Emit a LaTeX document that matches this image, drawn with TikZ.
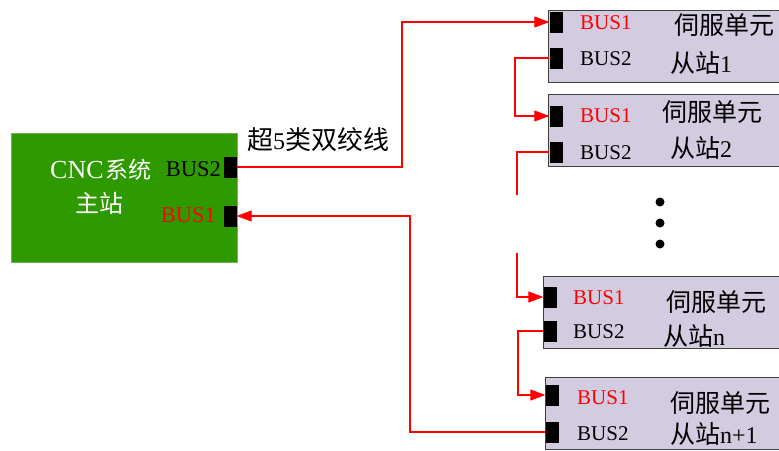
\documentclass[tikz,border=0pt]{standalone}
\usepackage{fontspec}
\setmainfont{Liberation Serif}
\newfontfamily\cjk{Noto Sans CJK SC}
\usetikzlibrary{arrows.meta}
\definecolor{cncgreen}{HTML}{2E9A00}
\definecolor{slavefill}{HTML}{D3CCE0}
\definecolor{busred}{HTML}{FF0000}
\newcommand{\lat}{\fontsize{21}{21}\selectfont}
\newcommand{\latb}{\fontsize{24}{24}\selectfont}
\newcommand{\han}{\fontsize{25}{25}\selectfont\cjk}
\begin{document}
\begin{tikzpicture}[x=1pt,y=-1pt,
  slavebox/.style={draw=black!75, line width=0.8pt, fill=slavefill, anchor=north west, minimum width=260pt, minimum height=72pt, inner sep=0pt},
  port/.style={fill=black, minimum width=13pt, minimum height=21pt, inner sep=0pt},
  lbl/.style={font=\lat, inner sep=0pt},
  cn/.style={font=\han, inner sep=0pt},
  wire/.style={draw=busred, line width=1.2pt},
  arr/.style={-{Triangle[length=15pt,width=11pt]}}
]
\useasboundingbox (0,0) rectangle (779,450);
\clip (0,0) rectangle (779,450);
% master
\node[fill=cncgreen, draw=cncgreen!70, anchor=north west, minimum width=226pt, minimum height=129pt, inner sep=0pt] (cnc) at (11,133) {};
\node[port] (m2) at (230,167) {};
\node[port] (m1) at (230,216) {};
\node[anchor=base west, inner sep=0pt, text=white] (cnct) at (50,178) {{\fontsize{26}{26}\selectfont CNC}\,{\fontsize{23}{23}\selectfont\cjk 系统}};
\node[font=\fontsize{24}{24}\selectfont\cjk, inner sep=0pt, text=white, anchor=base west] (zz) at (75,212) {主站};
\node[font=\fontsize{22.5}{22.5}\selectfont, inner sep=0pt, anchor=base east] (mb2) at (221,176) {BUS2};
\node[font=\fontsize{22.5}{22.5}\selectfont, inner sep=0pt, text=busred, anchor=base east] (mb1) at (216,222) {BUS1};
% slaves
\node[slavebox] (s1) at (548,10) {};
\node[slavebox] (s2) at (548,94) {};
\node[slavebox] (s3) at (543,276) {};
\node[slavebox] (s4) at (545,377) {};
\node[port] (s1a) at (556,22) {};
\node[port] (s1b) at (556,58) {};
\node[port] (s2a) at (556,116) {};
\node[port] (s2b) at (556,152) {};
\node[port] (s3a) at (550,297) {};
\node[port] (s3b) at (550,331) {};
\node[port] (s4a) at (552,395) {};
\node[port] (s4b) at (552,432) {};
% texts
\node[lbl, text=busred, anchor=base west] (t1a) at (580,29) {BUS1};
\node[lbl, anchor=base west] (t1b) at (580,65) {BUS2};
\node[cn, anchor=base west] (c1a) at (674,34) {伺服单元};
\node[anchor=base west, inner sep=0pt] (c1b) at (670,72) {{\han 从站}{\latb 1}};
\node[lbl, text=busred, anchor=base west] (t2a) at (580,122) {BUS1};
\node[lbl, anchor=base west] (t2b) at (580,159) {BUS2};
\node[cn, anchor=base west] (c2a) at (662,121) {伺服单元};
\node[anchor=base west, inner sep=0pt] (c2b) at (670,157) {{\han 从站}{\latb 2}};
\node[lbl, text=busred, anchor=base west] (t3a) at (573,304) {BUS1};
\node[lbl, anchor=base west] (t3b) at (573,338) {BUS2};
\node[cn, anchor=base west] (c3a) at (666,311) {伺服单元};
\node[anchor=base west, inner sep=0pt] (c3b) at (663,345) {{\han 从站}{\latb n}};
\node[lbl, text=busred, anchor=base west] (t4a) at (577,404) {BUS1};
\node[lbl, anchor=base west] (t4b) at (577,440) {BUS2};
\node[cn, anchor=base west] (c4a) at (670,412) {伺服单元};
\node[anchor=base west, inner sep=0pt] (c4b) at (670,443) {{\han 从站}{\latb n+1}};
% cable label
\node[anchor=base west, inner sep=0pt] (cable) at (247,149) {{\fontsize{26}{26}\selectfont\cjk 超}{\latb 5}{\fontsize{26}{26}\selectfont\cjk 类双绞线}};
% dots
\foreach \y/\n in {202/d1,223/d2,244/d3} \fill (660,\y) circle (4.5pt) coordinate (\n);
% wires
\coordinate (g1) at (517,195);
\coordinate (g2) at (517,253);
\draw[wire,arr] (m2.east) -- (402,167) |- (s1a.west);
\draw[wire,arr] (s1b.west) -- (515,58) |- (s2a.west);
\draw[wire] (s2b.west) -| (g1);
\draw[wire,arr] (g2) |- (s3a.west);
\draw[wire,arr] (s3b.west) -- (518,331) |- (s4a.west);
\draw[wire,arr] (s4b.west) -- (410,432) |- (m1.east);
\end{tikzpicture}
\end{document}
